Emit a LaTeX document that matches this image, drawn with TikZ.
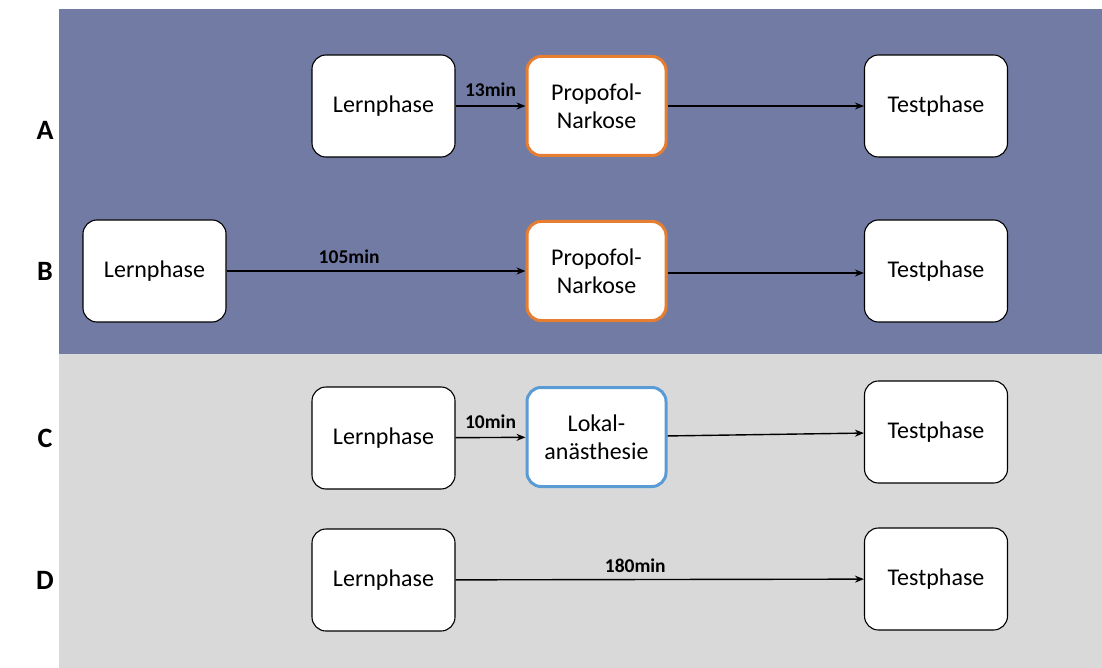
\documentclass[tikz,border=0pt]{standalone}
\usepackage{fontspec}
\setmainfont{Carlito}
\usetikzlibrary{arrows.meta}
\begin{document}
\begin{tikzpicture}[x=1pt,y=-1pt,
  box/.style={draw=black,line width=1.1pt,fill=white,rounded corners=14pt,minimum width=143pt,minimum height=102pt,inner sep=0pt,align=center,font=\fontsize{24}{28}\selectfont},
  drugbox/.style={box,line width=3pt,minimum width=139pt,minimum height=99pt},
  conn/.style={-{Stealth[length=9pt,width=7pt]},line width=1.4pt},
  lbl/.style={font=\bfseries\fontsize{19.5}{21}\selectfont},
  letter/.style={font=\bfseries\fontsize{28}{30}\selectfont}]
\useasboundingbox (0,0) rectangle (1102,668);
\fill[white] (0,0) rectangle (1102,668);
\fill[fill={rgb,255:red,114;green,123;blue,164}] (59,9) rectangle (1102,354);
\fill[fill={rgb,255:red,217;green,217;blue,217}] (59,354) rectangle (1102,668);
% letters
\node[letter] (la) at (45,130) {A};
\node[letter] (lb) at (45,271) {B};
\node[letter] (lc) at (45,438) {C};
\node[letter] (ld) at (45,580) {D};
% row A
\node[box] (a1) at (383.5,106) {Lernphase};
\node[drugbox,draw={rgb,255:red,230;green,126;blue,50}] (a2) at (596.5,106) {Propofol-\\Narkose};
\node[box] (a3) at (936,106) {Testphase};
\draw[conn] (a1) -- node[lbl,above=5pt] (ta) {13min} (a2);
\draw[conn] (a2) -- (a3);
% row B
\node[box] (b1) at (154.5,271) {Lernphase};
\node[drugbox,draw={rgb,255:red,230;green,126;blue,50}] (b2) at (596.5,271) {Propofol-\\Narkose};
\node[box] (b3) at (936,271) {Testphase};
\draw[conn] (b1) -- node[lbl,above=3pt,pos=0.41] (tb) {105min} (b2);
\draw[conn] (b2.east) ++(0,2) coordinate (b2e) (b2e) -- (b3.west|-b2e);
% row C
\node[box] (c1) at (383.5,438) {Lernphase};
\node[drugbox,draw={rgb,255:red,91;green,155;blue,213}] (c2) at (596.5,437) {Lokal-\\anästhesie};
\node[box] (c3) at (936,432) {Testphase};
\draw[conn] (c1) -- node[lbl,above=5pt] (tc) {10min} (c2);
\draw[conn] (c2) -- (c3);
% row D
\node[box] (d1) at (383.5,580) {Lernphase};
\node[box] (d3) at (936,579) {Testphase};
\draw[conn] (d1) -- node[lbl,above=3pt,pos=0.44] (td) {180min} (d3);
\end{tikzpicture}
\end{document}
